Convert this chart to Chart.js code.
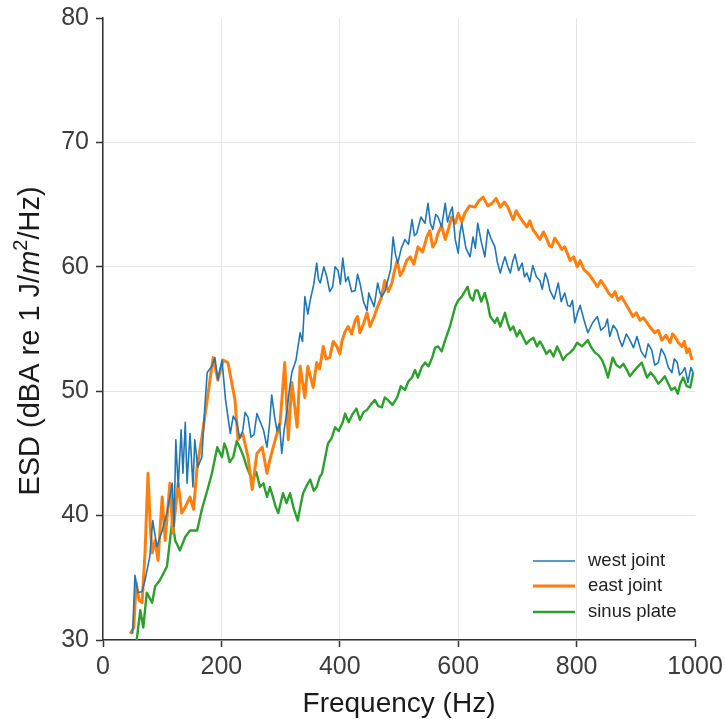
<!DOCTYPE html>
<html>
<head>
<meta charset="utf-8">
<title>ESD spectrum</title>
<script src="https://cdn.jsdelivr.net/npm/chart.js@4.4.1/dist/chart.umd.min.js"></script>
<style>
    html, body { margin: 0; padding: 0; background: #ffffff; }
    #wrap { width: 725px; height: 719px; }
</style>
</head>
<body>
<div id="wrap"><canvas id="esd-chart"></canvas></div>
<script>
// Data (frequency in Hz, level in dBA)
// ------------------------------
var westHz = [50, 54, 59, 66, 71, 79, 84, 91, 100, 108,
    117, 120, 123, 127, 132, 135, 139, 142, 147, 152,
    155, 160, 167, 172, 176, 184, 189, 194, 201, 207,
    215,
    220, 226, 231, 236, 240, 245, 250, 255, 260, 265,
    271, 277, 281, 285, 290, 294, 298, 302, 306, 311,
    315, 319, 326, 333, 337, 341, 346, 350, 356, 361,
    364, 367, 373, 378, 383, 388, 392, 397, 401, 405,
    410, 414, 420, 426, 430, 434, 440, 446, 449, 451,
    458, 464, 468, 471, 476, 481, 486, 490, 494, 498,
    504, 510, 516, 522, 526, 530, 537, 544, 547, 549,
    553, 557, 562, 566, 572, 578, 582, 586, 590, 595,
    600, 603, 606, 613, 620, 625, 629, 633, 639, 645,
    650, 656, 662, 666, 671, 675, 679, 684, 688, 692,
    696, 702, 708, 712, 716, 721, 726, 732, 738, 742,
    747, 751, 755, 762, 769, 774, 780, 785, 789, 793,
    797, 801, 806, 812, 819, 827, 835, 841, 848, 852,
    856, 862, 868, 872, 877, 884, 890, 896, 902, 909,
    916, 921, 927, 932, 938, 943, 949, 955, 961, 965,
    970, 974, 978, 983, 988, 993, 997];
var westDb = [30.5, 35.2, 33.8, 33.9, 34.8, 36.7, 39.6, 37.5, 38.8, 40.2,
    42.6, 39.1, 46.1, 42.3, 46.9, 43.4, 47.5, 42.6, 46.6, 42.3,
    46.1, 43.9, 44.7, 48.7, 51.5, 52.0, 52.7, 50.9, 52.5, 49.3,
    46.6,
    48.0, 47.5, 46.2, 46.8, 48.3, 47.9, 46.3, 46.5, 48.2, 47.6,
    46.9, 45.5, 47.2, 49.7, 47.9, 46.8, 47.4, 45.0, 46.9, 48.5,
    50.2, 51.5, 52.5, 54.7, 54.0, 57.6, 56.2, 57.3, 58.6, 60.3,
    59.0, 58.7, 60.0, 59.2, 58.0, 58.4, 60.0, 59.7, 58.6, 60.7,
    58.8, 59.2, 58.0, 58.1, 59.4, 58.7, 57.2, 56.5, 57.9, 57.6,
    56.8, 58.7, 57.9, 57.6, 58.0, 58.9, 59.8, 62.4, 61.0, 60.3,
    61.5, 62.2, 61.8, 63.8, 62.5, 62.7, 64.0, 63.5, 64.5, 65.1,
    63.5, 63.0, 64.2, 64.0, 63.2, 65.1, 63.6, 64.3, 64.8, 62.2,
    61.1, 62.7, 63.5, 61.5, 60.8, 62.4, 61.5, 63.5, 62.0, 60.8,
    63.0, 62.2, 61.6, 60.4, 59.5, 60.2, 60.8, 60.0, 59.5, 60.4,
    61.0, 59.7, 60.3, 59.2, 59.5, 58.8, 60.1, 59.2, 58.9, 58.2,
    59.5, 59.0, 58.1, 57.4, 58.7, 57.2, 57.9, 56.9, 56.8, 57.3,
    55.5, 56.2, 56.9, 55.8, 54.7, 55.5, 56.0, 54.9, 55.2, 55.8,
    54.4, 55.3, 54.9, 54.2, 53.6, 54.6, 54.1, 53.5, 54.4, 53.2,
    52.7, 53.8, 53.3, 52.1, 52.3, 53.4, 52.9, 51.9, 51.5, 52.6,
    52.3, 51.3, 51.5, 51.9, 50.7, 51.9, 51.5];

var eastHz = [46, 52, 56, 61, 66, 71, 76, 80, 83, 88,
    93, 100, 105, 113, 118, 127, 133, 139, 147, 153,
    159, 167, 176, 186, 194, 203, 211, 223, 228, 236,
    245, 252, 260, 269, 277, 282, 291, 299, 307, 313,
    319, 328, 333, 341, 346, 355, 361, 366, 372, 377,
    383, 389, 395, 400, 404, 409, 414, 420, 426, 430,
    434, 440, 446, 451, 458, 464, 470, 476, 482, 488,
    492, 497, 502, 507, 513, 519, 525, 532, 540, 547,
    552, 557, 562, 566, 572, 578, 584, 589, 595, 600,
    606, 611, 619, 628, 635, 642, 650, 657, 664, 671,
    678, 684, 689, 693, 698, 704, 710, 716, 721, 726,
    732, 738, 744, 750, 754, 758, 763, 769, 775, 780,
    785, 789, 795, 801, 806, 812, 819, 827, 835, 841,
    848, 854, 860, 865, 870, 876, 882, 888, 895, 901,
    907, 913, 919, 925, 932, 938, 944, 951, 958, 962,
    966, 972, 978, 982, 986, 990, 995];
var eastDb = [30.5, 31.0, 34.6, 33.2, 33.0, 37.0, 43.4, 39.0, 37.0, 38.0,
    36.4, 41.5, 38.0, 42.6, 38.6, 42.6, 40.2, 40.7, 41.5, 40.5,
    43.9, 46.3, 49.3, 52.7, 50.9, 52.5, 52.3, 49.3, 46.1, 46.6,
    44.7, 42.1, 45.0, 45.5, 43.4, 44.5, 46.1, 47.4, 52.3, 46.1,
    50.7, 47.1, 52.0, 49.5, 52.0, 50.3, 52.3, 51.8, 53.6, 52.6,
    52.7, 54.0, 53.6, 53.0, 54.1, 54.8, 55.2, 54.6, 55.7, 56.0,
    54.7, 55.4, 56.3, 55.2, 56.0, 56.8, 57.5, 58.9, 58.0, 58.7,
    59.6, 60.5, 59.3, 59.7, 60.5, 60.8, 60.2, 61.6, 61.2, 62.4,
    62.9, 61.6, 62.0, 62.7, 63.3, 62.2, 63.1, 64.0, 63.5, 64.3,
    63.6, 64.3, 64.9, 64.8, 65.3, 65.6, 64.9, 65.1, 65.5, 64.8,
    65.2, 64.8, 64.2, 63.8, 64.5, 64.0, 63.6, 63.2, 63.7, 63.0,
    62.6, 62.2, 62.8, 62.2, 61.7, 61.6, 62.3, 61.9, 61.4, 61.6,
    61.0, 60.5, 60.8, 60.0, 60.5, 59.8, 59.5, 59.0, 58.4, 58.9,
    58.4, 57.9, 57.6, 58.0, 57.3, 57.6, 57.1, 56.6, 56.0, 56.3,
    55.7, 55.9, 55.5, 55.1, 54.7, 54.9, 54.1, 54.5, 53.9, 54.6,
    54.4, 53.9, 53.6, 54.0, 53.1, 53.4, 52.5];

var sinusHz = [57, 63, 68, 74, 83, 88, 96, 108, 117, 122,
    130, 139, 147, 159, 167, 176, 184, 193, 201, 205,
    209, 214, 220, 226, 231, 237, 243, 248, 253, 259,
    265, 271, 277, 282, 287, 291, 296, 300, 304, 310,
    316, 322, 329, 334, 338, 344, 350, 356, 361, 366,
    370, 375, 380, 386, 392, 398, 404, 409, 415, 422,
    428, 434, 440, 446, 452, 459, 465, 471, 476, 481,
    489, 497, 503, 510, 516, 522, 527, 532, 538, 544,
    550, 556, 561, 566, 572, 578, 586, 595, 600, 606,
    611, 616, 620, 625, 629, 633, 639, 645, 650, 654,
    662, 666, 671, 679, 684, 688, 693, 699, 704, 709,
    715, 721, 727, 733, 738, 743, 749, 755, 761, 767,
    772, 777, 783, 789, 795, 801, 809, 819, 825, 831,
    837, 843, 848, 853, 861, 867, 873, 879, 885, 890,
    895, 902, 910, 919, 925, 932, 938, 944, 949, 954,
    960, 966, 971, 975, 980, 986, 992, 997];
var sinusDb = [30.0, 32.4, 31.0, 33.8, 33.0, 34.3, 34.8, 35.9, 39.6, 38.0,
    37.2, 38.3, 38.8, 38.8, 40.5, 42.0, 43.4, 45.5, 44.7, 45.8,
    45.3, 44.3, 44.7, 46.0, 45.5, 44.8, 43.9, 43.3, 42.9, 43.5,
    42.3, 42.6, 41.5, 42.3, 41.5, 40.8, 40.2, 41.0, 41.8, 41.0,
    41.8, 40.6, 39.6, 40.9, 41.8, 42.4, 42.9, 42.0, 42.3, 43.1,
    43.4, 44.6, 45.8, 46.2, 47.1, 46.8, 47.4, 48.2, 47.5, 48.2,
    48.6, 47.7, 48.3, 48.5, 48.9, 49.3, 48.8, 48.7, 49.5, 49.3,
    48.9, 49.5, 50.4, 50.1, 50.8, 51.1, 51.7, 51.1, 51.9, 52.3,
    52.0, 52.7, 53.5, 53.6, 53.2, 54.1, 55.2, 56.8, 57.3, 57.6,
    58.0, 58.4, 57.6, 57.3, 58.1, 58.1, 57.2, 57.9, 57.0, 56.0,
    55.5, 55.9, 55.2, 56.3, 55.4, 54.9, 55.2, 54.4, 54.9, 54.4,
    53.8, 54.1, 54.3, 53.6, 54.0, 53.6, 53.0, 53.3, 52.8, 53.6,
    53.1, 52.5, 52.9, 53.1, 53.4, 53.9, 53.6, 54.1, 53.5, 53.1,
    52.9, 52.5, 51.9, 51.1, 52.7, 52.1, 51.9, 52.2, 51.7, 51.2,
    51.5, 51.9, 52.3, 51.1, 51.5, 51.1, 50.6, 50.9, 51.2, 50.7,
    50.1, 50.3, 49.8, 50.6, 51.1, 50.4, 50.3, 51.5];

var seriesNames = ['west joint', 'east joint', 'sinus plate'];
var seriesColors = ['#1f77b4', '#ff7f0e', '#2ca02c'];

var xTicks = [0, 200, 400, 600, 800, 1000];
var yTicks = [30, 40, 50, 60, 70, 80];

function toPoints(hz, db) {
    var pts = [];
    for (var i = 0; i < hz.length && i < db.length; i++) {
        pts.push({ x: hz[i], y: db[i] });
    }
    return pts;
}

var FONT = '"Liberation Sans", Arial, sans-serif';

function drawText(ctx, text, x, y, size, align, baseline) {
    ctx.font = size + 'px ' + FONT;
    ctx.textAlign = align;
    ctx.textBaseline = baseline;
    ctx.fillText(text, x, y);
}

// Tick labels, axis titles and legend
var labelsPlugin = {
    id: 'esdLabels',
    afterDraw: function (chart) {
        var ctx = chart.ctx;
        var area = chart.chartArea;
        var xs = chart.scales.x;
        var ys = chart.scales.y;

        ctx.save();
        ctx.fillStyle = '#3c3c3c';
        xTicks.forEach(function (v) {
            drawText(ctx, String(v), xs.getPixelForValue(v), 667, 25, 'center', 'middle');
        });
        yTicks.forEach(function (v) {
            drawText(ctx, String(v), 89, ys.getPixelForValue(v), 25, 'right', 'middle');
        });

        // x title
        ctx.fillStyle = '#1a1a1a';
        drawText(ctx, 'Frequency (Hz)', (area.left + area.right) / 2, 712, 28, 'center', 'alphabetic');

        // y title, italic m and superscript 2
        var parts = [
            { t: 'ESD (dBA re 1 J/', f: '29px ' + FONT, dy: 0 },
            { t: 'm', f: 'italic 29px ' + FONT, dy: 0 },
            { t: '2', f: '20px ' + FONT, dy: -10 },
            { t: '/Hz)', f: '29px ' + FONT, dy: 0 }
        ];
        var total = 0;
        parts.forEach(function (p) { ctx.font = p.f; p.w = ctx.measureText(p.t).width; total += p.w; });
        ctx.save();
        ctx.translate(31, 341);
        ctx.rotate(-Math.PI / 2);
        ctx.textBaseline = 'middle';
        ctx.textAlign = 'left';
        var x = -total / 2;
        parts.forEach(function (p) {
            ctx.font = p.f;
            ctx.fillText(p.t, x, p.dy);
            x += p.w;
        });
        ctx.restore();

        // legend, lower right, no frame
        var rows = [561, 586, 612];
        chart.data.datasets.forEach(function (ds, i) {
            ctx.strokeStyle = ds.borderColor;
            ctx.lineWidth = ds.borderWidth;
            ctx.beginPath();
            ctx.moveTo(533, rows[i]);
            ctx.lineTo(575, rows[i]);
            ctx.stroke();
            ctx.fillStyle = '#222222';
            drawText(ctx, ds.label, 588, rows[i], 18.5, 'left', 'middle');
        });
        ctx.restore();
    }
};

var ctxEsd = document.getElementById('esd-chart');

var chartData = {
    datasets: [{
        label: seriesNames[0],
        data: toPoints(westHz, westDb),
        borderColor: seriesColors[0],
        borderWidth: 1.6
    }, {
        label: seriesNames[1],
        data: toPoints(eastHz, eastDb),
        borderColor: seriesColors[1],
        borderWidth: 3
    }, {
        label: seriesNames[2],
        data: toPoints(sinusHz, sinusDb),
        borderColor: seriesColors[2],
        borderWidth: 2.4
    }]
};

var gridColor = function (edge) {
    return function (c) {
        return c.tick && c.tick.value === edge ? 'rgba(0,0,0,0)' : '#e6e6e6';
    };
};

var chartOptions = {
    responsive: true,
    maintainAspectRatio: false,
    animation: false,
    layout: { padding: { top: 18, right: 30, bottom: 0, left: 0 } },
    elements: {
        point: { radius: 0 },
        line: { tension: 0, fill: false, borderJoinStyle: 'round' }
    },
    plugins: {
        legend: { display: false },
        tooltip: { enabled: false }
    },
    scales: {
        x: {
            type: 'linear',
            min: 0,
            max: 1000,
            afterBuildTicks: function (scale) {
                scale.ticks = xTicks.map(function (v) { return { value: v }; });
            },
            afterFit: function (scale) { scale.height = 79; },
            grid: { color: gridColor(1000), lineWidth: 1, tickColor: '#333333', tickLength: 7, tickWidth: 1.5 },
            border: { color: '#333333', width: 1.5 },
            ticks: { display: false }
        },
        y: {
            min: 30,
            max: 80,
            afterBuildTicks: function (scale) {
                scale.ticks = yTicks.map(function (v) { return { value: v }; });
            },
            afterFit: function (scale) { scale.width = 103; },
            grid: { color: gridColor(80), lineWidth: 1, tickColor: '#333333', tickLength: 7, tickWidth: 1.5 },
            border: { color: '#333333', width: 1.5 },
            ticks: { display: false }
        }
    }
};

var esdChart = new Chart(ctxEsd, {
    type: 'line',
    data: chartData,
    options: chartOptions,
    plugins: [labelsPlugin]
});
</script>
</body>
</html>
